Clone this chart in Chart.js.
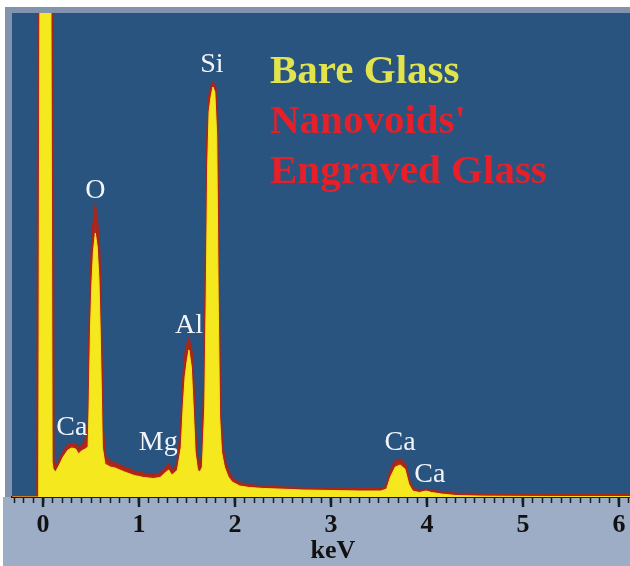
<!DOCTYPE html>
<html>
<head>
<meta charset="utf-8">
<script src="https://cdn.jsdelivr.net/npm/chart.js@4.4.1/dist/chart.umd.min.js"></script>
<style>
  html, body { margin: 0; padding: 0; background: #fff; }
  canvas { display: block; }
</style>
</head>
<body>
<canvas id="eds" width="630" height="566"></canvas>
<script>
// energy (keV), shared by both spectra
const energy = [
  -0.32, -0.055, -0.045, -0.03, 0.07, 0.08, 0.095, 0.105, 0.13, 0.17,
  0.21, 0.26, 0.30, 0.34, 0.37, 0.40, 0.44, 0.47, 0.48, 0.495,
  0.51, 0.525, 0.545, 0.565, 0.583, 0.595, 0.607, 0.618, 0.645, 0.70,
  0.75, 0.85, 0.95, 1.05, 1.15, 1.22, 1.27, 1.31, 1.34, 1.37,
  1.40, 1.44, 1.46, 1.48, 1.50, 1.52, 1.545, 1.565, 1.585, 1.61,
  1.635, 1.66, 1.685, 1.70, 1.715, 1.73, 1.75, 1.77, 1.79, 1.81,
  1.825, 1.84, 1.86, 1.89, 1.93, 1.97, 2.05, 2.15, 2.3, 2.5,
  2.7, 3.0, 3.3, 3.52, 3.58, 3.62, 3.67, 3.72, 3.77, 3.81,
  3.85, 3.92, 3.99, 4.05, 4.15, 4.3, 4.6, 5.0, 5.5, 6.2
];
// counts, bare glass (yellow)
const bareGlass = [
  0, 0, 0, 6000, 6000, 6000, 350, 280, 250, 320,
  400, 470, 490, 480, 430, 460, 480, 500, 900, 1700,
  2150, 2450, 2640, 2500, 2170, 1700, 1100, 500, 330, 300,
  290, 250, 215, 195, 185, 195, 240, 270, 220, 240,
  270, 500, 900, 1200, 1350, 1470, 1300, 900, 450, 270,
  250, 300, 900, 2000, 3300, 3850, 4000, 4100, 4050, 3600,
  2000, 800, 450, 300, 200, 150, 110, 95, 85, 78,
  70, 65, 60, 60, 80, 200, 300, 320, 280, 130,
  60, 45, 60, 45, 30, 15, 8, 6, 5, 5
];
// counts, nanovoids' engraved glass (red)
const engravedGlass = [
  0, 0, 6000, 6000, 6000, 6000, 6000, 350, 290, 360,
  440, 510, 530, 520, 480, 500, 540, 700, 1300, 2000,
  2450, 2700, 2860, 2700, 2450, 2000, 1400, 700, 400, 350,
  330, 290, 250, 230, 220, 230, 270, 320, 260, 280,
  320, 650, 1100, 1400, 1500, 1560, 1450, 1100, 600, 320,
  300, 400, 1200, 2400, 3600, 3980, 4080, 4130, 4100, 3800,
  2400, 1000, 550, 360, 250, 180, 135, 115, 100, 92,
  85, 80, 75, 78, 100, 250, 350, 370, 320, 170,
  80, 60, 70, 60, 45, 30, 25, 24, 22, 22
];

const peakNames = ['Ca', 'O', 'Mg', 'Al', 'Si', 'Ca', 'Ca'];
const peakEnergy = [0.30, 0.545, 1.20, 1.52, 1.76, 3.72, 4.03];
const peakLabelCounts = [690, 3060, 540, 1710, 4320, 540, 220];

const legendLines = ['Bare Glass', "Nanovoids'", 'Engraved Glass'];
const legendColors = ['#e2e44e', '#e61f28', '#e61f28'];

const majorTicks = [0, 1, 2, 3, 4, 5, 6];

const toPoints = (ys) => energy.map((e, i) => ({ x: e, y: ys[i] }));

// fond bleu + cadre gris
const frameBackground = {
  id: 'frameBackground',
  beforeDraw(chart) {
    const { ctx, chartArea: a, width, height } = chart;
    ctx.save();
    ctx.fillStyle = '#ffffff';
    ctx.fillRect(0, 0, width, height);
    ctx.fillStyle = '#8294ad';
    ctx.fillRect(5, 7, width - 5, height - 7);
    ctx.fillStyle = '#9cadc5';
    ctx.fillRect(3, a.bottom, width - 3, height - a.bottom);
    ctx.fillStyle = '#29547f';
    ctx.fillRect(a.left, a.top, a.right - a.left, a.bottom - a.top);
    ctx.restore();
  },
};

// noms des raies, légende, titre de l'axe
const spectrumLabels = {
  id: 'spectrumLabels',
  afterDraw(chart) {
    const { ctx, scales: { x, y } } = chart;
    ctx.save();

    // graduations principales plus longues
    ctx.strokeStyle = '#161b26';
    ctx.lineWidth = 2.5;
    majorTicks.forEach((v) => {
      const px = x.getPixelForValue(v);
      ctx.beginPath();
      ctx.moveTo(px, x.top);
      ctx.lineTo(px, x.top + 10);
      ctx.stroke();
    });

    ctx.font = '28px "Liberation Serif", serif';
    ctx.fillStyle = '#f2f4f8';
    ctx.textAlign = 'center';
    ctx.textBaseline = 'middle';
    peakNames.forEach((n, i) => {
      ctx.fillText(n, x.getPixelForValue(peakEnergy[i]), y.getPixelForValue(peakLabelCounts[i]));
    });

    ctx.font = 'bold 41px "Liberation Serif", serif';
    ctx.textAlign = 'left';
    ctx.textBaseline = 'alphabetic';
    legendLines.forEach((t, i) => {
      ctx.fillStyle = legendColors[i];
      ctx.fillText(t, 270, 83 + i * 50);
    });

    ctx.font = 'bold 26px "Liberation Serif", serif';
    ctx.fillStyle = '#111';
    ctx.textAlign = 'center';
    ctx.textBaseline = 'middle';
    ctx.fillText('keV', x.getPixelForValue(3.02), 551);
    ctx.restore();
  },
};

new Chart(document.getElementById('eds').getContext('2d'), {
  type: 'line',
  data: {
    datasets: [
      {
        label: 'Bare Glass',
        data: toPoints(bareGlass),
        borderColor: '#f2e41c',
        backgroundColor: '#f6e81e',
        borderWidth: 1,
        fill: 'origin',
        pointRadius: 0,
        tension: 0,
        order: 0,
      },
      {
        label: "Nanovoids' Engraved Glass",
        data: toPoints(engravedGlass),
        borderColor: '#a8261a',
        backgroundColor: '#b8281c',
        borderWidth: 3,
        fill: 'origin',
        pointRadius: 0,
        tension: 0,
        order: 1,
      },
    ],
  },
  plugins: [frameBackground, spectrumLabels],
  options: {
    responsive: false,
    animation: false,
    layout: { autoPadding: false, padding: { left: 12, top: 13, right: 0, bottom: 0 } },
    plugins: {
      legend: { display: false },
      tooltip: { enabled: false },
    },
    scales: {
      x: {
        type: 'linear',
        min: -0.323,
        max: 6.115,
        afterFit(scale) {
          scale.height = 69;
          scale.paddingLeft = 0;
          scale.paddingRight = 0;
        },
        border: { display: true, color: '#161b26', width: 2 },
        grid: { drawOnChartArea: false, drawTicks: true, tickLength: 6, tickColor: '#161b26', tickWidth: 1.5 },
        ticks: {
          stepSize: 0.1,
          autoSkip: false,
          maxRotation: 0,
          includeBounds: false,
          padding: 7,
          color: '#111',
          font: { family: 'Liberation Serif', size: 26, weight: 'bold' },
          callback: (v) => (Math.abs(v - Math.round(v)) < 1e-6 && v >= 0 ? String(Math.round(v)) : ''),
        },
      },
      y: { display: false, min: 0, max: 4840 },
    },
  },
});
</script>
</body>
</html>
